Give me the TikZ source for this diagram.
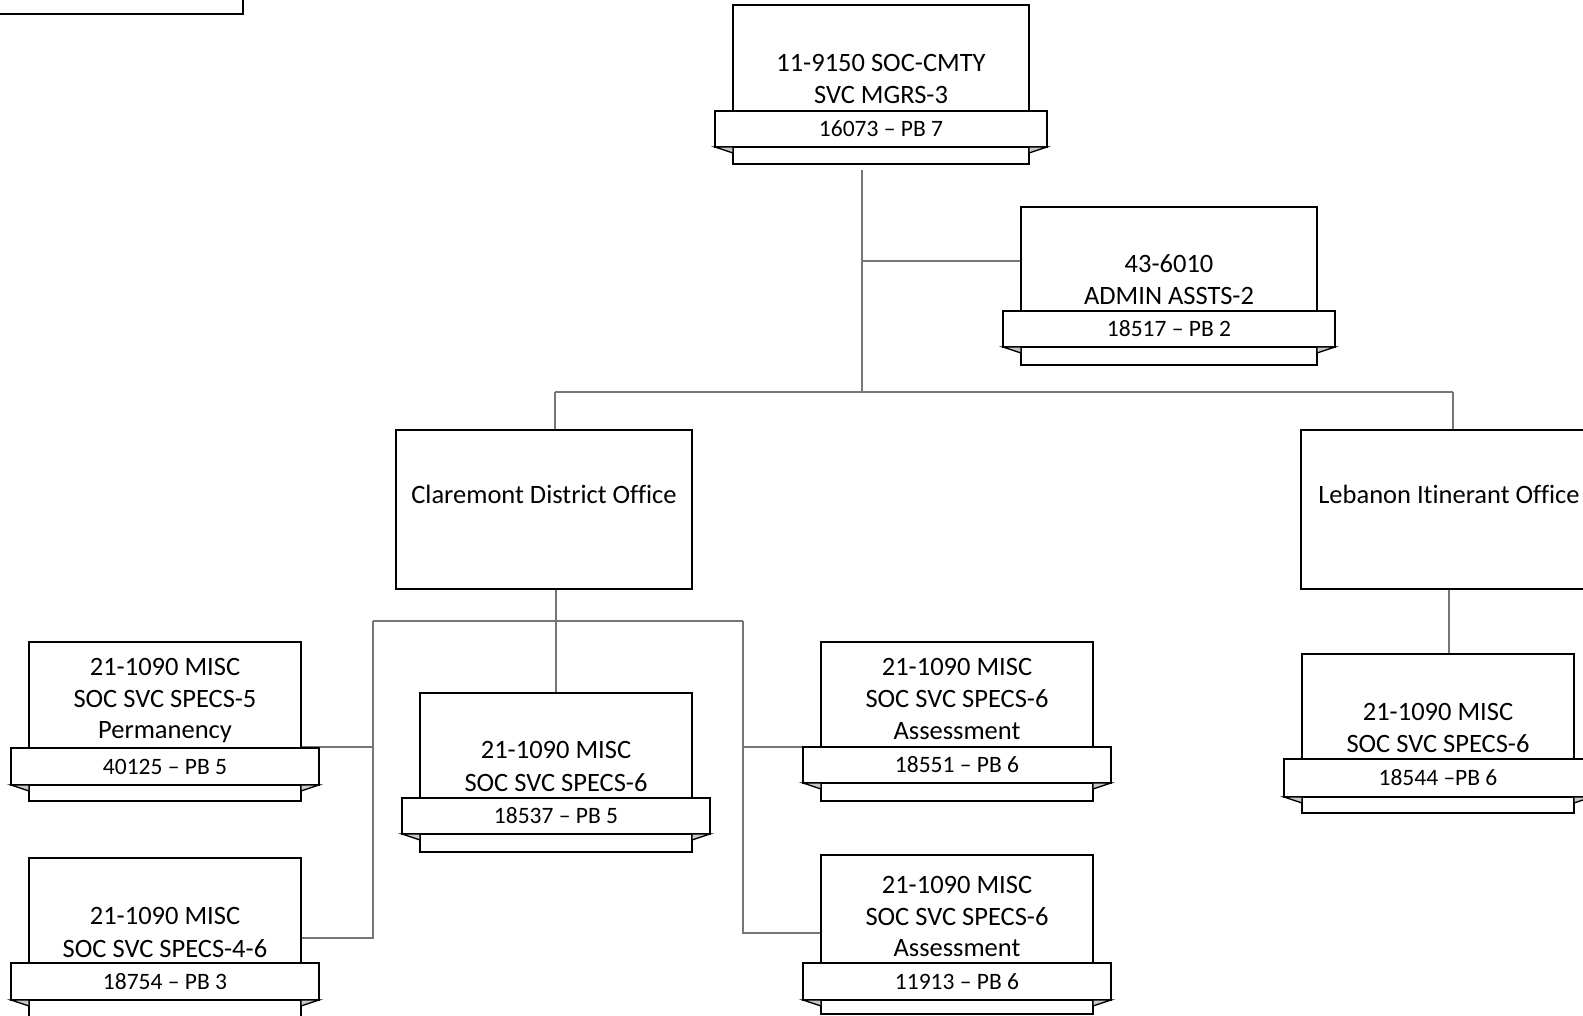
\documentclass[tikz,border=0pt]{standalone}
\usepackage{fontspec}
\setmainfont{Carlito}[Ligatures=NoCommon, RawFeature={-calt;-clig}]
\usetikzlibrary{calc}
\pgfdeclarelayer{background}
\pgfsetlayers{background,main}
\definecolor{connc}{RGB}{118,118,118}
\definecolor{foldc}{RGB}{200,200,200}
\tikzset{
  box/.style={draw=black, line width=1.8pt, fill=white, rectangle, inner sep=0pt, outer sep=0pt},
  ribbon/.style={box, font=\fontsize{23.5}{28}\selectfont, text height=15.1pt, text depth=0pt},
  fold/.style={draw=black, line width=1.4pt, fill=foldc, line join=miter},
  conn/.style={draw=connc, line width=1.3pt},
  txt/.style={anchor=base, inner sep=0pt, font=\fontsize{26.5}{30}\selectfont},
}
\newcommand\orgbox[8]{%
  \node[box, minimum width=#3, minimum height=#5-#4] (#1) at (#2,{(#4+#5)/2}) {};
  \node[ribbon, minimum width=#3+36, minimum height=#7-#6] (#1r) at (#2,{(#6+#7)/2}) {#8};
  \filldraw[fold] (#1r.south west) -- ($(#1.west |- #1r.south)+(0,6)$) -- (#1.west |- #1r.south) -- cycle;
  \filldraw[fold] (#1r.south east) -- ($(#1.east |- #1r.south)+(0,6)$) -- (#1.east |- #1r.south) -- cycle;
}
\begin{document}
\begin{tikzpicture}[x=1pt,y=-1pt]
\useasboundingbox (0,0) rectangle (1583,1016);
% partial box at top left
\node[box, minimum width=263, minimum height=34] (TL) at (111.5,-3) {};
% position boxes
\orgbox{A}{881}{296}{5}{164}{111}{147}{16073 – PB 7}
\orgbox{B}{1169}{296}{207}{365}{311}{347}{18517 – PB 2}
\node[box, minimum width=296, minimum height=159] (C) at (544,509.5) {};
\node[box, minimum width=296, minimum height=159] (D) at (1449,509.5) {};
\orgbox{E}{1438}{272}{654}{813}{759}{797}{18544 –PB 6}
\orgbox{F}{165}{272}{642}{801}{748}{785}{40125 – PB 5}
\orgbox{G}{556}{272}{693}{852}{798}{834}{18537 – PB 5}
\orgbox{H}{957}{272}{642}{801}{747}{783}{18551 – PB 6}
\orgbox{I}{165}{272}{858}{1017}{963}{1000}{18754 – PB 3}
\orgbox{J}{957}{272}{855}{1014}{963}{1000}{11913 – PB 6}
% texts
\node[txt] (A1) at (881,71.5) {11-9150 SOC-CMTY};
\node[txt] (A2) at (881,104) {SVC MGRS-3};
\node[txt] (B1) at (1169,272.5) {43-6010};
\node[txt] (B2) at (1169,305) {ADMIN ASSTS-2};
\node[txt] (C1) at (544,503.7) {Claremont District Office};
\node[txt] (D1) at (1449,503.7) {Lebanon Itinerant Office};
\node[txt] (E1) at (1438,720) {21-1090 MISC};
\node[txt] (E2) at (1438,752.5) {SOC SVC SPECS-6};
\node[txt] (F1) at (165,675) {21-1090 MISC};
\node[txt] (F2) at (165,707.5) {SOC SVC SPECS-5};
\node[txt] (F3) at (165,738.5) {Permanency};
\node[txt] (G1) at (556,758) {21-1090 MISC};
\node[txt] (G2) at (556,791) {SOC SVC SPECS-6};
\node[txt] (H1) at (957,675) {21-1090 MISC};
\node[txt] (H2) at (957,707.5) {SOC SVC SPECS-6};
\node[txt] (H3) at (957,739.5) {Assessment};
\node[txt] (I1) at (165,924) {21-1090 MISC};
\node[txt] (I2) at (165,957) {SOC SVC SPECS-4-6};
\node[txt] (J1) at (957,893) {21-1090 MISC};
\node[txt] (J2) at (957,925.5) {SOC SVC SPECS-6};
\node[txt] (J3) at (957,956.5) {Assessment};
% connectors
\begin{pgfonlayer}{background}
\coordinate (bar) at (862,392);
\coordinate (cl) at (555,392);
\coordinate (dl) at (1453,392);
\coordinate (bj) at (862,261);
\coordinate (lb) at (373,621);
\coordinate (rb) at (743,621);
\coordinate (fj) at (373,747);
\coordinate (hj) at (743,747);
\coordinate (ij) at (373,938);
\coordinate (jj) at (743,933);
\draw[conn, shorten <=6pt] (A.south -| bar) -- (bar);
\draw[conn] (bj) -- (bj -| B.west);
\draw[conn] (cl) -- (dl);
\draw[conn] (cl) -- (cl |- C.north);
\draw[conn] (dl) -- (dl |- D.north);
\draw[conn] (C.south -| G.north) -- (G.north);
\draw[conn] (lb) -- (rb);
\draw[conn] (lb) -- (ij) -- (ij -| I.east);
\draw[conn] (rb) -- (jj) -- (jj -| J.west);
\draw[conn] (fj) -- (fj -| F.east);
\draw[conn] (hj) -- (hj -| H.west);
\draw[conn] (D.south) -- (D.south |- E.north);
\end{pgfonlayer}
\end{tikzpicture}
\end{document}
